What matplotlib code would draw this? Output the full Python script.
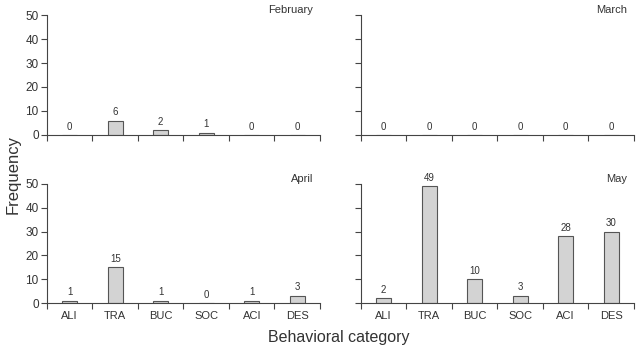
import matplotlib
matplotlib.use('Agg')
import matplotlib.pyplot as plt
import numpy as np

plt.rcParams['font.family'] = ['Liberation Sans', 'DejaVu Sans']

categories = ['ALI', 'TRA', 'BUC', 'SOC', 'ACI', 'DES']
months = ['February', 'March', 'April', 'May']
february = [0, 6, 2, 1, 0, 0]
march = [0, 0, 0, 0, 0, 0]
april = [1, 15, 1, 0, 1, 3]
may = [2, 49, 10, 3, 28, 30]
yticks = [0, 10, 20, 30, 40, 50]

series = [february, march, april, may]
axis_color = '#444444'
text_color = '#333333'

fig = plt.figure(figsize=(6.4, 3.49), dpi=100)
fig.set_facecolor('white')

# axes boxes in figure fraction: left, bottom, width, height
boxes = [
    [0.0734, 0.6132, 0.4266, 0.3438],
    [0.564, 0.6132, 0.4266, 0.3438],
    [0.0734, 0.1318, 0.4266, 0.3410],
    [0.564, 0.1318, 0.4266, 0.3410],
]

x = np.arange(len(categories))
for i, (month, vals) in enumerate(zip(months, series)):
    ax = fig.add_axes(boxes[i])
    ax.bar(x, vals, width=0.33, color='#d3d3d3', edgecolor='#555555', linewidth=0.8)
    for xi, v in zip(x, vals):
        ax.annotate(str(v), (xi, v), xytext=(0, 2.5), textcoords='offset points',
                    ha='center', va='bottom', fontsize=7, color=text_color)
    ax.set_xlim(-0.5, len(categories) - 0.5)
    ax.set_ylim(0, 50)
    ax.spines['top'].set_visible(False)
    ax.spines['right'].set_visible(False)
    for side in ['left', 'bottom']:
        ax.spines[side].set_color(axis_color)
        ax.spines[side].set_linewidth(0.8)

    # category boundaries as minor ticks, labels at centers
    ax.set_xticks(x)
    ax.set_xticks(np.arange(-0.5, len(categories), 1.0), minor=True)
    ax.tick_params(axis='x', which='major', length=0, pad=6, labelsize=8, labelcolor=text_color)
    ax.tick_params(axis='x', which='minor', length=4, width=0.8, color=axis_color, direction='out')
    if i < 2:
        ax.set_xticklabels([])
    else:
        ax.set_xticklabels(categories)

    ax.set_yticks(yticks)
    ax.tick_params(axis='y', length=4, width=0.8, color=axis_color, labelsize=8.5, labelcolor=text_color, pad=2)
    if i % 2 == 1:
        ax.set_yticklabels([])

    ax.text(5.35, 52, month, ha='right', va='center', fontsize=8, color=text_color, clip_on=False)

fig.text(0.02, 0.5, 'Frequency', rotation=90, ha='center', va='center', fontsize=12, color=text_color)
fig.text(0.529, 0.032, 'Behavioral category', ha='center', va='center', fontsize=11.5, color=text_color)

fig.savefig('out.png', dpi=100)
